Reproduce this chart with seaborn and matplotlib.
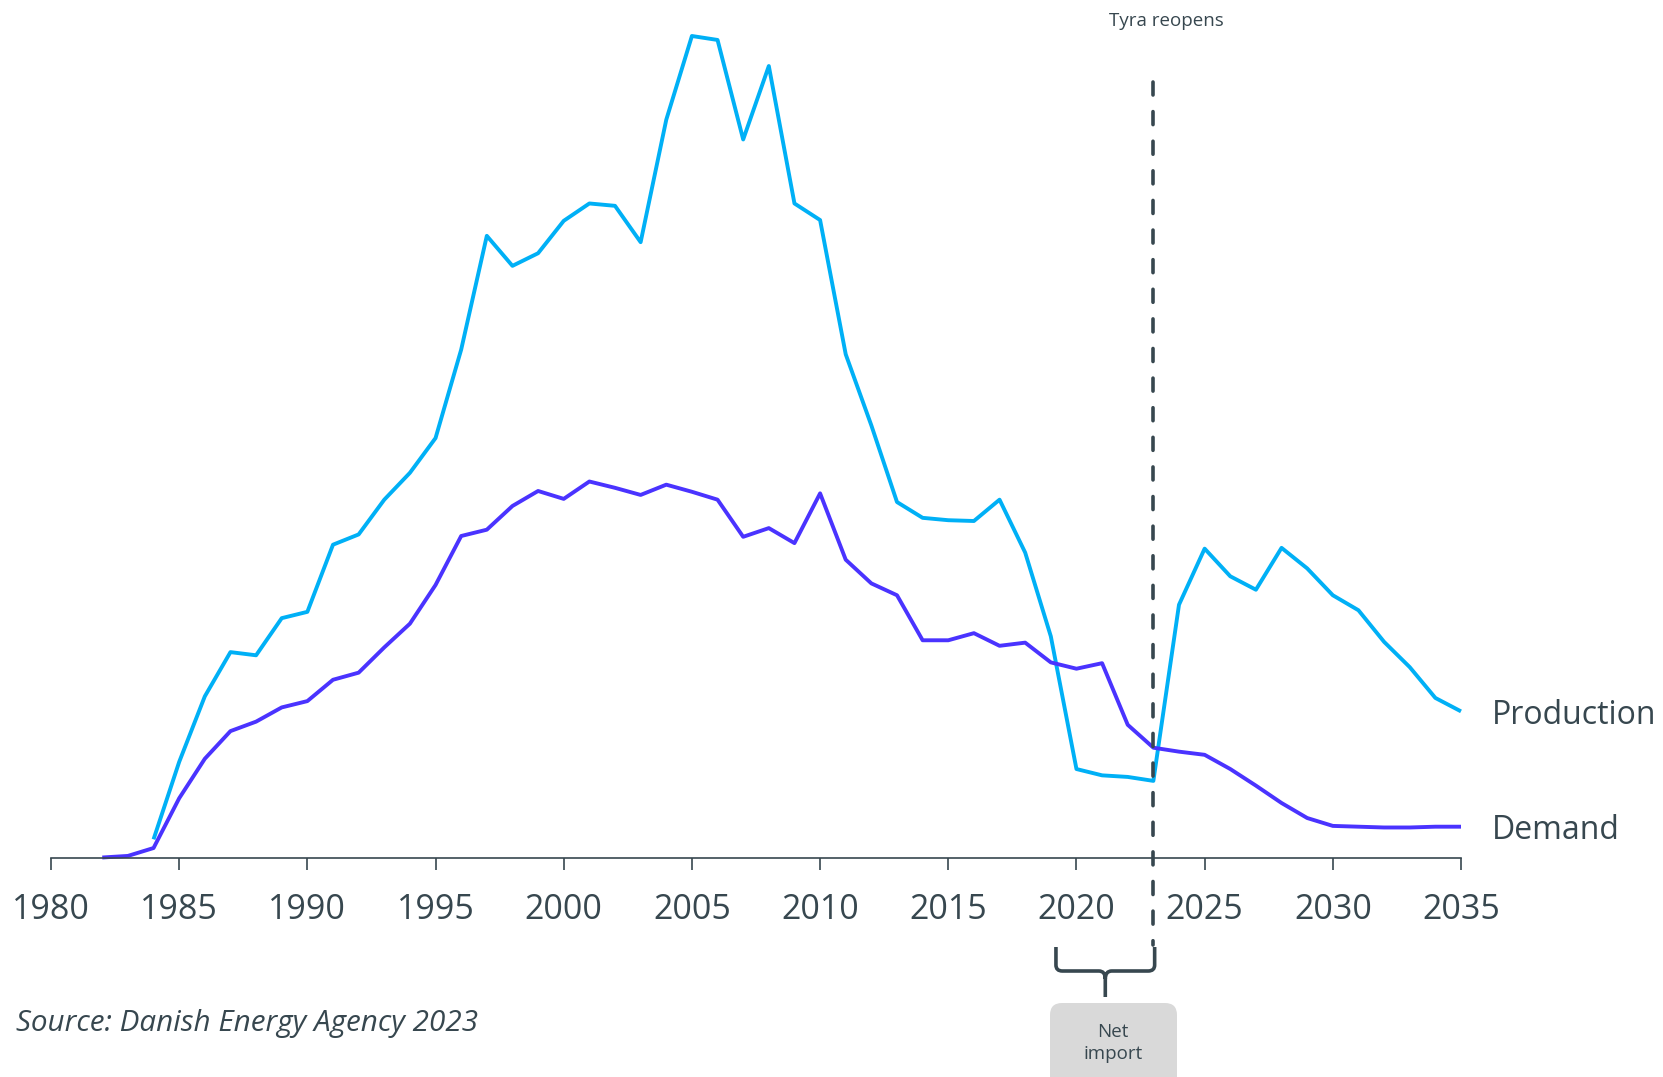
import numpy as np
import pandas as pd
import matplotlib
matplotlib.use("Agg")
import matplotlib.pyplot as plt
import seaborn as sns
from matplotlib.patches import FancyBboxPatch, PathPatch
from matplotlib.path import Path
from matplotlib.transforms import IdentityTransform, blended_transform_factory

# ---------------- data (approx. bcm) ----------------
prod_years = list(range(1984, 2036))
production = [0.23, 1.21, 2.04, 2.60, 2.56, 3.03, 3.11, 3.96, 4.09, 4.53, 4.87, 5.31,
              6.43, 7.87, 7.49, 7.65, 8.06, 8.28, 8.25, 7.79, 9.34, 10.40, 10.35, 9.09,
              10.02, 8.28, 8.07, 6.37, 5.47, 4.50, 4.30, 4.27, 4.26, 4.53, 3.86, 2.80,
              1.12, 1.04, 1.02, 0.97, 3.20, 3.91, 3.56, 3.39, 3.92, 3.66, 3.32, 3.13,
              2.73, 2.41, 2.02, 1.85]
demand_years = list(range(1982, 2036))
demand = [0.00, 0.02, 0.12, 0.75, 1.25, 1.60, 1.72, 1.90, 1.98, 2.25, 2.34, 2.66, 2.96,
          3.45, 4.07, 4.15, 4.45, 4.64, 4.54, 4.76, 4.68, 4.59, 4.72, 4.63, 4.53, 4.06,
          4.17, 3.98, 4.61, 3.77, 3.47, 3.32, 2.75, 2.75, 2.84, 2.68, 2.72, 2.47, 2.39,
          2.46, 1.68, 1.39, 1.34, 1.30, 1.12, 0.91, 0.69, 0.50, 0.40, 0.39, 0.38, 0.38,
          0.39, 0.39]
series_names = ["Production", "Demand"]
tick_years = list(range(1980, 2036, 5))
tyra_year = 2023
brace_years = (2019.2, 2023.05)
source_text = "Source: Danish Energy Agency 2023"
event_text = "Tyra reopens"
box_text = "Net\nimport"

# ---------------- style ----------------
sns.set_theme(style="white")
plt.rcParams["font.family"] = ["Open Sans", "DejaVu Sans"]

W, H = 1663, 1077
TXT = "#37474F"
C_PROD = "#00B0F6"
C_DEM = "#4A33FF"

fig = plt.figure(figsize=(W / 100, H / 100), dpi=100)
ax = fig.add_axes([51 / W, (H - 857.5) / H, 1410 / W, 821.5 / H])

df = pd.concat([
    pd.DataFrame({"year": prod_years, "value": production, "series": series_names[0]}),
    pd.DataFrame({"year": demand_years, "value": demand, "series": series_names[1]}),
])
sns.lineplot(data=df, x="year", y="value", hue="series",
             palette={series_names[0]: C_PROD, series_names[1]: C_DEM},
             linewidth=2.8, legend=False, ax=ax)
for ln in ax.get_lines():
    ln.set_clip_on(False)
    ln.set_solid_joinstyle("round")
    ln.set_solid_capstyle("butt")

ax.set_xlim(1980, 2035)
ax.set_ylim(0, 10.40)
ax.set_xlabel("")
ax.set_ylabel("")
ax.set_yticks([])
ax.set_xticks(tick_years)
ax.set_xticklabels([str(y) for y in tick_years])
for s in ["top", "right", "left"]:
    ax.spines[s].set_visible(False)
ax.spines["bottom"].set_color(TXT)
ax.spines["bottom"].set_linewidth(1.2)
ax.tick_params(axis="x", direction="out", length=8.6, width=1.2, color=TXT,
               labelsize=24.5, labelcolor=TXT, pad=17, bottom=True)
ax.patch.set_alpha(0)

# end labels
ax.annotate(series_names[0], xy=(prod_years[-1], production[-1]), xytext=(22, -3),
            textcoords="offset points", ha="left", va="center", fontsize=23,
            color=TXT, annotation_clip=False)
ax.annotate(series_names[1], xy=(demand_years[-1], demand[-1]), xytext=(22, -3),
            textcoords="offset points", ha="left", va="center", fontsize=23,
            color=TXT, annotation_clip=False)

# Tyra dashed line (drawn from top so the first dash starts at the top)
trv = blended_transform_factory(ax.transData, IdentityTransform())
ax.plot([tyra_year, tyra_year], [H - 82, H - 945], transform=trv, color=TXT,
        lw=2.6, ls=(0, (3.6, 4.6)), dash_capstyle="round", clip_on=False, zorder=5)
fig.text(1166 / W, 1 - 21 / H, event_text, ha="center", va="center",
         fontsize=13.5, color=TXT)

# curly brace under axis (x in data, y in pixels)
xl, xr = brace_years
xc = (xl + xr) / 2
dx = 0.25
yt, yh, ytip = H - 947, H - 971, H - 997
verts = [(xl, yt), (xl, yh + 6), (xl, yh), (xl + dx, yh),
         (xc - dx, yh), (xc, yh), (xc, yh - 8), (xc, ytip),
         (xc, yh - 8), (xc, yh), (xc + dx, yh),
         (xr - dx, yh), (xr, yh), (xr, yh + 6), (xr, yt)]
codes = [Path.MOVETO, Path.LINETO, Path.CURVE3, Path.CURVE3,
         Path.LINETO, Path.CURVE3, Path.CURVE3, Path.LINETO,
         Path.MOVETO, Path.CURVE3, Path.CURVE3,
         Path.LINETO, Path.CURVE3, Path.CURVE3, Path.LINETO]
brace = PathPatch(Path(verts, codes), transform=trv, fill=False, edgecolor=TXT,
                  lw=2.6, clip_on=False, capstyle="butt", joinstyle="round")
ax.add_artist(brace)

# Net import box
box = FancyBboxPatch((1050, -20), 127, (H - 1003) + 20,
                     boxstyle="round,pad=0,rounding_size=12",
                     transform=IdentityTransform(), facecolor="#D9D9D9",
                     edgecolor="none", clip_on=False)
fig.add_artist(box)
fig.text(1113 / W, 1 - 1043 / H, box_text, ha="center", va="center",
         fontsize=13.5, color=TXT, linespacing=1.3)

# source
fig.text(16 / W, 1 - 1023 / H, source_text, ha="left", va="center",
         fontsize=21.3, style="italic", color=TXT)

fig.savefig("out.png", dpi=100, facecolor="white")
